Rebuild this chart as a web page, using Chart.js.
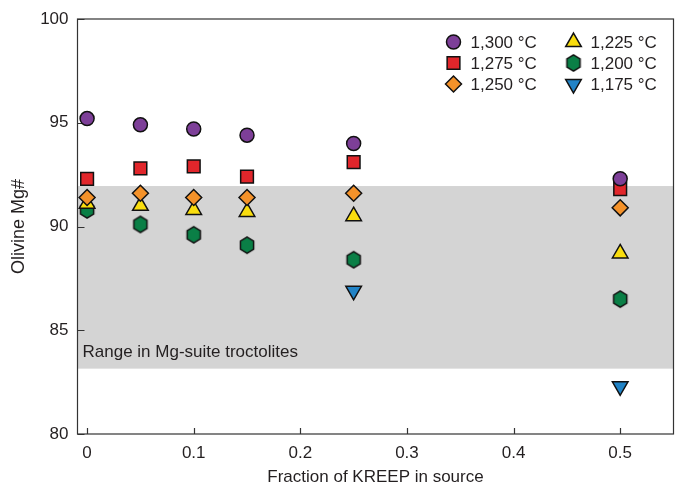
<!DOCTYPE html>
<html>
<head>
<meta charset="utf-8">
<script src="https://cdn.jsdelivr.net/npm/chart.js@4.4.1/dist/chart.umd.min.js"></script>
<style>
html,body{margin:0;padding:0;background:#fff;overflow:hidden}
#wrap{width:684px;height:488px;position:relative}
#chart{display:block}
</style>
</head>
<body>
<div id="wrap"><canvas id="chart"></canvas></div>
<script>
// data
const fractions=[0,0.05,0.1,0.15,0.25,0.5]
const mg1300=[95.2,94.9,94.7,94.4,94.0,92.3]
const mg1275=[92.3,92.8,92.9,92.4,93.1,91.8]
const mg1250=[91.4,91.6,91.4,91.4,91.6,90.9]
const mg1225=[91.1,91.0,90.8,90.7,90.5,88.7]
const mg1200=[90.8,90.1,89.6,89.1,88.4,86.5]
const fractions1175=[0.25,0.5]
const mg1175=[86.9,82.3]
const seriesLabels=["1,300 °C","1,275 °C","1,250 °C","1,225 °C","1,200 °C","1,175 °C"]
const xTicks=[0,0.1,0.2,0.3,0.4,0.5]
const yTicks=[80,85,90,95,100]
const bandRange=[83.15,91.95]
const bandLabel="Range in Mg-suite troctolites"

const FONT="'Liberation Sans', Arial, Helvetica, sans-serif"
const INK="#231f20"

function hexagon(fill){
const c=document.createElement("canvas")
c.width=18
c.height=20
const g=c.getContext("2d")
g.beginPath()
for(let i=0;i<6;i++){
const a=-Math.PI/2+i*Math.PI/3
g.lineTo(9+7.6*Math.cos(a),10+8.2*Math.sin(a))
}
g.closePath()
g.fillStyle=fill
g.fill()
g.lineWidth=1.5
g.strokeStyle="#111"
g.stroke()
return c
}

function pts(xs,ys){return xs.map((x,i)=>({x:x,y:ys[i]}))}

const ds=[
{label:seriesLabels[0],data:pts(fractions,mg1300),backgroundColor:"#7d3f98",pointStyle:"circle",pointRadius:7,rotation:0},
{label:seriesLabels[1],data:pts(fractions,mg1275),backgroundColor:"#e1262b",pointStyle:"rect",pointRadius:9,rotation:0},
{label:seriesLabels[2],data:pts(fractions,mg1250),backgroundColor:"#f4922a",pointStyle:"rectRot",pointRadius:8,rotation:0},
{label:seriesLabels[3],data:pts(fractions,mg1225),backgroundColor:"#f9dd0e",pointStyle:"triangle",pointRadius:9,rotation:0},
{label:seriesLabels[4],data:pts(fractions,mg1200),backgroundColor:"#0a7f46",pointStyle:hexagon("#0a7f46"),pointRadius:8,rotation:0},
{label:seriesLabels[5],data:pts(fractions1175,mg1175),backgroundColor:"#2183c6",pointStyle:"triangle",pointRadius:9,rotation:180}
].map(d=>Object.assign(d,{
showLine:false,
borderColor:"#111",
borderWidth:1.5,
pointBackgroundColor:d.backgroundColor,
pointBorderColor:"#111",
pointBorderWidth:1.5,
pointRotation:d.rotation,
pointHoverRadius:d.pointRadius
}))

function marker(ctx,d,x,y){
if(window.Chart&&Chart.helpers&&Chart.helpers.drawPoint){
Chart.helpers.drawPoint(ctx,{pointStyle:d.pointStyle,radius:d.pointRadius,rotation:d.rotation,borderWidth:1.5},x,y)
return
}
if(typeof d.pointStyle!=="string"){
ctx.drawImage(d.pointStyle,x-d.pointStyle.width/2,y-d.pointStyle.height/2)
return
}
ctx.beginPath()
ctx.arc(x,y,d.pointRadius,0,Math.PI*2)
ctx.fill()
ctx.stroke()
}

const decor={
id:"decor",
beforeDatasetsDraw(chart){
const {ctx,chartArea:a,scales:{x,y}}=chart
ctx.save()
// shaded band
const yt=y.getPixelForValue(bandRange[1])
const yb=y.getPixelForValue(bandRange[0])
ctx.fillStyle="#d4d4d4"
ctx.fillRect(a.left,yt,a.right-a.left,yb-yt)
ctx.fillStyle=INK
ctx.font="17px "+FONT
ctx.textBaseline="alphabetic"
ctx.fillText(bandLabel,a.left+5,y.getPixelForValue(83.72))
// frame
ctx.strokeStyle="#333"
ctx.lineWidth=1.2
ctx.strokeRect(a.left,a.top,a.right-a.left,a.bottom-a.top)
// ticks, pointing inward
ctx.beginPath()
yTicks.forEach(v=>{
const p=Math.round(y.getPixelForValue(v))+0.5
ctx.moveTo(a.left,p)
ctx.lineTo(a.left+7,p)
})
xTicks.forEach(v=>{
const p=Math.round(x.getPixelForValue(v))+0.5
ctx.moveTo(p,a.bottom)
ctx.lineTo(p,a.bottom-6)
})
ctx.stroke()
ctx.restore()
},
afterDraw(chart){
const {ctx,chartArea:a}=chart
ctx.save()
ctx.font="17px "+FONT
ctx.textBaseline="middle"
chart.data.datasets.forEach((d,i)=>{
const col=Math.floor(i/3)
const row=i%3
const mx=a.right-220+col*120
const my=a.top+23+row*21
ctx.fillStyle=d.pointBackgroundColor
ctx.strokeStyle="#111"
ctx.lineWidth=1.5
marker(ctx,d,mx,my)
ctx.fillStyle=INK
ctx.fillText(d.label,mx+17,my+1)
})
ctx.restore()
}
}

new Chart(document.getElementById("chart"),{
type:"scatter",
data:{datasets:ds},
plugins:[decor],
options:{
responsive:true,
maintainAspectRatio:false,
animation:false,
layout:{padding:{top:19,right:3,left:0,bottom:0}},
plugins:{legend:{display:false},tooltip:{enabled:false}},
scales:{
x:{
type:"linear",
min:-0.009,
max:0.55,
afterBuildTicks:s=>{s.ticks=xTicks.map(v=>({value:v}))},
afterFit:s=>{s.height=54;s.paddingLeft=0;s.paddingRight=0},
grid:{display:false,drawTicks:false},
border:{display:false},
ticks:{color:INK,font:{family:FONT,size:17},padding:9,maxRotation:0,callback:v=>String(v)},
title:{display:true,text:"Fraction of KREEP in source",color:INK,font:{family:FONT,size:17},padding:{top:4,bottom:0}}
},
y:{
type:"linear",
min:80,
max:100,
afterBuildTicks:s=>{s.ticks=yTicks.map(v=>({value:v}))},
afterFit:s=>{s.width=77.5;s.paddingTop=0;s.paddingBottom=0},
grid:{display:false,drawTicks:false},
border:{display:false},
ticks:{color:INK,font:{family:FONT,size:17},padding:9},
title:{display:true,text:"Olivine Mg#",color:INK,font:{family:FONT,size:18},padding:{top:8,bottom:0}}
}
}
}
})
</script>
</body>
</html>
